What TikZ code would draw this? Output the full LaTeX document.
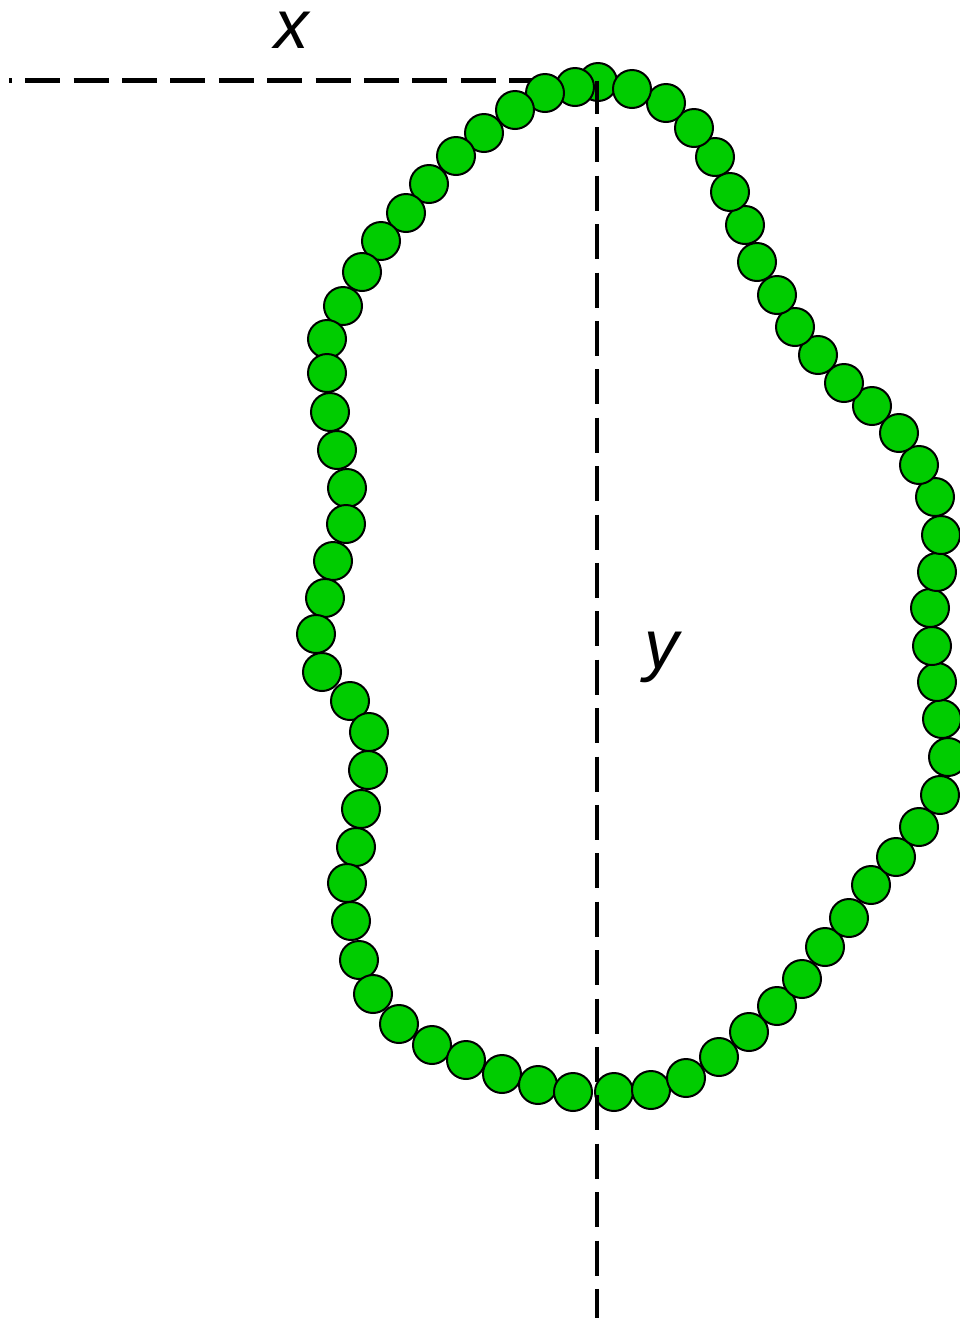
\documentclass[tikz,border=0pt]{standalone}
\usepackage{fontspec}
\setmainfont{Liberation Sans}
\definecolor{BeadFill}{HTML}{00CC00}
\definecolor{BeadLine}{HTML}{000000}
\definecolor{AxisLine}{HTML}{000000}

\begin{document}
\begin{tikzpicture}[x=1pt,y=-1pt,
    bead/.style={fill=BeadFill,draw=BeadLine,line width=2pt},
    axis/.style={draw=AxisLine,line width=4.5pt,dash pattern=on 35pt off 13.4pt},
    axislabel/.style={font=\fontsize{69}{80}\selectfont\itshape,inner sep=0pt}]
      \useasboundingbox (0,0) rectangle (960,1318);
      \clip (0,0) rectangle (960,1318);

      \coordinate (corner) at (597,80.5);
      \coordinate (left) at (9.3,80.5);
      \coordinate (bottom) at (597,1318);

      \draw[axis,dash phase=32.5pt] (left) -- (corner);

      \foreach \bx/\by in {598/82,575/87,545/93,515/110,484/133,456/156,429/184,
          406/213,381/241,362/272,343/306,327/339,327/373,330/412,337/450,
          347/488,346/524,333/561,325/598,316/634,322/672,350/701,369/732,
          368/770,361/809,356/847,347/883,351/921,359/960,373/994,399/1024,
          432/1045,466/1060,502/1074,538/1085,573/1092,614/1092,651/1090,
          686/1078,719/1057,749/1032,777/1006,802/979,825/947,849/918,
          871/885,896/857,919/827,940/795,948/757,942/719,937/682,932/646,
          930/608,937/572,941/535,935/497,919/465,899/433,872/406,844/383,
          818/355,795/327,777/295,757/262,745/225,730/192,715/157,694/128,
          666/103,632/89}
        \draw[bead] (\bx,\by) circle (19pt);

      \draw[axis,dash phase=1.6pt] (corner) -- (bottom);

      \node[axislabel] (xlabel) at (292,30) {x};
      \node[axislabel] (ylabel) at (662,657) {y};
    \end{tikzpicture}
\end{document}
